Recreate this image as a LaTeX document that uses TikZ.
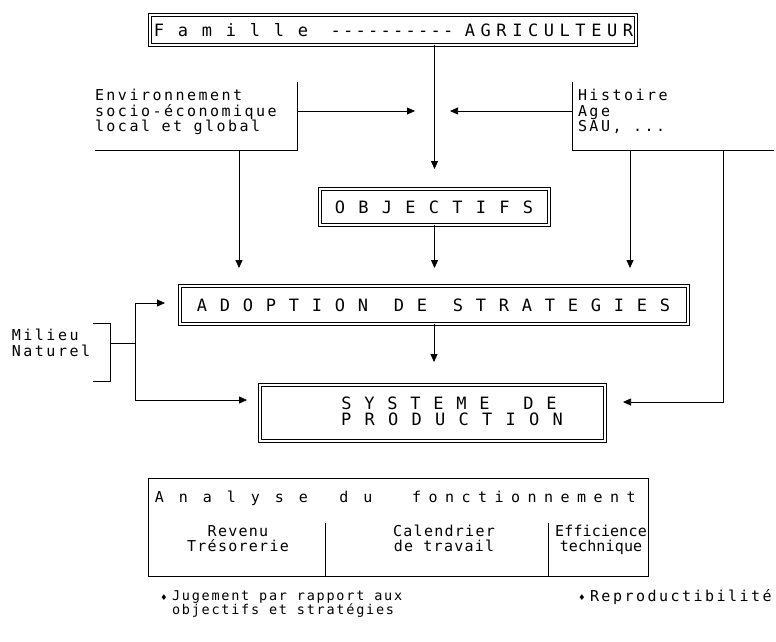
\documentclass[tikz,border=0pt]{standalone}
\usepackage{fontspec}
\setmainfont{DejaVu Sans Mono}
\newfontfamily\bodyfont[LetterSpace=16.5]{DejaVu Sans Mono}
\newfontfamily\innerfont[LetterSpace=8.5]{DejaVu Sans Mono}
\newfontfamily\tightfont[LetterSpace=1]{DejaVu Sans Mono}
\newfontfamily\bulfont[LetterSpace=13]{DejaVu Sans Mono}
\newfontfamily\symfont{DejaVu Sans}
\usetikzlibrary{arrows.meta}
\newcommand\ls[2]{\def\lsw{#1}\lsloop#2\relax}
\def\lsloop#1{\ifx\relax#1\else\makebox[\lsw]{#1}\expandafter\lsloop\fi}
\begin{document}
\begin{tikzpicture}[x=1pt,y=-1pt,
  every node/.style={inner sep=0pt, outer sep=0pt},
  dbox/.style={draw, double, double distance=2.2pt, line width=0.9pt},
  ln/.style={line width=0.75pt},
  arr/.style={ln, -{Triangle[length=8pt,width=7pt]}},
  body/.style={font=\bodyfont\fontsize{15}{15.5}\selectfont, anchor=base west},
  bul/.style={font=\bulfont\fontsize{13.5}{14}\selectfont, anchor=base west},
  inner/.style={font=\innerfont\fontsize{15}{15.5}\selectfont, anchor=base},
  innert/.style={font=\tightfont\fontsize{15}{15.5}\selectfont, anchor=base},
  ttl/.style={font=\fontsize{17}{18}\selectfont, anchor=base},
  ana/.style={font=\fontsize{15}{15.5}\selectfont, anchor=base},
  dia/.style={anchor=base, font=\symfont\fontsize{8}{8}\selectfont},
]
\useasboundingbox (0,0) rectangle (776,641);

% boxes
\node[dbox, minimum width=486pt, minimum height=30pt] (top) at (393,30) {};
\node[dbox, minimum width=229pt, minimum height=36pt] (obj) at (434.5,207) {};
\node[dbox, minimum width=508pt, minimum height=38pt] (adopt) at (434,305) {};
\node[dbox, minimum width=345pt, minimum height=56pt] (sys) at (432.5,413) {};
\node[draw, ln, minimum width=500pt, minimum height=98pt] (ana) at (398,527) {};
\node[minimum width=202pt, minimum height=68pt] (envbox) at (196,116) {};
\node[minimum width=202pt, minimum height=68pt] (hisbox) at (673,116) {};
\draw[ln] (envbox.north east) -- (envbox.south east) -- (envbox.south west);
\draw[ln] (hisbox.north west) -- (hisbox.south west) -- (hisbox.south east);

% titles
\node[ttl] (t1) at (231,36) {\ls{24pt}{Famille}};
\node[ttl] (t2) at (392,36) {\ls{12.5pt}{----------}};
\node[ttl] (t3) at (549,36) {\ls{15.8pt}{AGRICULTEUR}};
\node[ttl] (o1) at (434,213) {\ls{23.5pt}{OBJECTIFS}};
\node[ttl] (a1) at (282.5,311) {\ls{23pt}{ADOPTION}};
\node[ttl] (a2) at (410.5,311) {\ls{23pt}{DE}};
\node[ttl] (a3) at (561.5,311) {\ls{23pt}{STRATEGIES}};
\node[ttl] (s1) at (415.5,409) {\ls{23pt}{SYSTEME}};
\node[ttl] (s2) at (540,409) {\ls{23pt}{DE}};
\node[ttl] (s3) at (452,425) {\ls{23.5pt}{PRODUCTION}};
\node[ana] (n1) at (231.5,502) {\ls{24pt}{Analyse}};
\node[ana] (n2) at (356,502) {\ls{24pt}{du}};
\node[ana] (n3) at (524,502) {\ls{16.5pt}{fonctionnement}};

% side texts
\node[body] (e1) at (95,100.5) {Environnement};
\node[body] (e2) at (95,116) {socio-économique};
\node[body] (e3) at (95,131.5) {local et global};
\node[body] (h1) at (578,100.5) {Histoire};
\node[body] (h2) at (578,116) {Age};
\node[body] (h3) at (578,131.5) {SAU, ...};
\node[body] (m1t) at (12,340) {Milieu};
\node[body] (m2t) at (12,356) {Naturel};

% analyse columns
\coordinate (d1) at (325,523);
\coordinate (d2) at (548,523);
\draw[ln] (d1) -- (d1 |- ana.south);
\draw[ln] (d2) -- (d2 |- ana.south);
\node[inner] (c1a) at (238,536) {Revenu};
\node[inner] (c1b) at (238,551) {Trésorerie};
\node[inner] (c2a) at (444,536) {Calendrier};
\node[inner] (c2b) at (444,551) {de travail};
\node[innert] (c3a) at (601,536) {Efficience};
\node[innert] (c3b) at (601,551) {technique};

% bullets
\node[dia] (bd1) at (164,600) {♦};
\node[bul] (b1) at (172,600.5) {Jugement par rapport aux};
\node[bul] (b2) at (172,614.5) {objectifs et stratégies};
\node[dia] (bd2) at (582,600) {♦};
\node[body] (b3) at (590,601) {Reproductibilité};

% connectors
\draw[arr, shorten >=20pt] (top.south -| obj.north) -- (obj.north);
\coordinate (jl) at (415,111);
\coordinate (jr) at (450,111);
\draw[arr] ([yshift=5pt]envbox.east) -- (jl);
\draw[arr] ([yshift=5pt]hisbox.west) -- (jr);
\draw[arr, shorten >=18pt] ([xshift=144pt]envbox.south west) coordinate (ea) -- (ea |- adopt.north);
\draw[arr, shorten >=18pt] (obj.south) -- (obj.south |- adopt.north);
\draw[arr, shorten >=18pt] ([xshift=58pt]hisbox.south west) coordinate (ha) -- (ha |- adopt.north);
\draw[arr, shorten >=23pt] (adopt.south) -- (adopt.south |- sys.north);
\draw[arr, shorten >=18pt] ([xshift=151pt]hisbox.south west) coordinate (hb) |- ([yshift=11pt]sys.east);

% milieu bracket
\coordinate (m1) at (93,323);
\coordinate (m2) at (110,323);
\coordinate (m3) at (110,381);
\coordinate (m4) at (93,381);
\coordinate (mm) at (110,343);
\coordinate (mv) at (135,343);
\draw[ln] (m1) -- (m2) -- (m3) -- (m4);
\draw[ln] (mm) -- (mv);
\draw[arr, shorten >=15pt] (mv) |- ([yshift=2pt]adopt.west);
\draw[arr, shorten >=13pt] (mv) |- ([yshift=13pt]sys.west);
\end{tikzpicture}
\end{document}
